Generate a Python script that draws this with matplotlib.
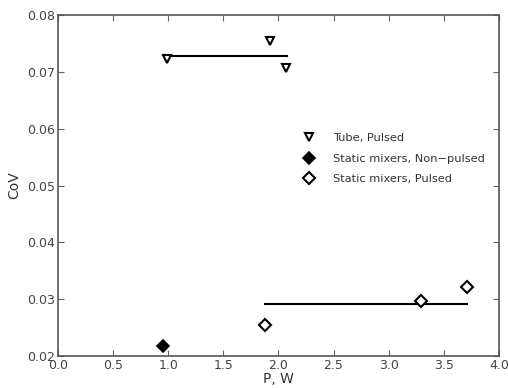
import matplotlib
matplotlib.use("Agg")
import matplotlib.pyplot as plt

# Tube, pulsed
tube_p = [0.99, 1.92, 2.07]
tube_cov = [0.0723, 0.0754, 0.0707]
tube_mean_x = [0.99, 2.08]
tube_mean = 0.0728

# Static mixers, non-pulsed
sm_np_p = [0.95]
sm_np_cov = [0.0218]

# Static mixers, pulsed
sm_p = [1.88, 3.29, 3.71]
sm_cov = [0.0255, 0.0296, 0.0322]
sm_mean_x = [1.88, 3.71]
sm_mean = 0.0291

plt.rcParams['font.family'] = 'DejaVu Sans'
fig = plt.figure(figsize=(5.08, 3.88), dpi=100)
ax = fig.add_axes([0.114, 0.0825, 0.868, 0.8785])

ax.plot(tube_mean_x, [tube_mean, tube_mean], color='black', lw=1.5)
ax.plot(sm_mean_x, [sm_mean, sm_mean], color='black', lw=1.5)
ax.plot(tube_p, tube_cov, linestyle='none', marker='v', ms=5.5, mfc='white',
        mec='black', mew=1.5, label='Tube, Pulsed')
ax.plot(sm_np_p, sm_np_cov, linestyle='none', marker='D', ms=6, mfc='black',
        mec='black', mew=1.2, label='Static mixers, Non\u2212pulsed')
ax.plot(sm_p, sm_cov, linestyle='none', marker='D', ms=6, mfc='white',
        mec='black', mew=1.5, label='Static mixers, Pulsed')

ax.set_xlim(0, 4)
ax.set_ylim(0.02, 0.08)
ax.set_xticks([0.0, 0.5, 1.0, 1.5, 2.0, 2.5, 3.0, 3.5, 4.0])
ax.set_yticks([0.02, 0.03, 0.04, 0.05, 0.06, 0.07, 0.08])
ax.tick_params(direction='in', top=True, right=True, labelsize=9,
               labelcolor='#444444', color='#666666', length=4, pad=2)
for s in ax.spines.values():
    s.set_color('#555555')
    s.set_linewidth(1.2)
ax.set_xlabel('P, W', fontsize=10, color='#333333', labelpad=0)
ax.set_ylabel('CoV', fontsize=10, color='#333333')

ax.legend(loc='upper left', bbox_to_anchor=(0.52, 0.685), frameon=False,
          fontsize=8.2, numpoints=1, handletextpad=1.1, labelspacing=0.95,
          labelcolor='#333333')

fig.savefig('out.png', dpi=100)
